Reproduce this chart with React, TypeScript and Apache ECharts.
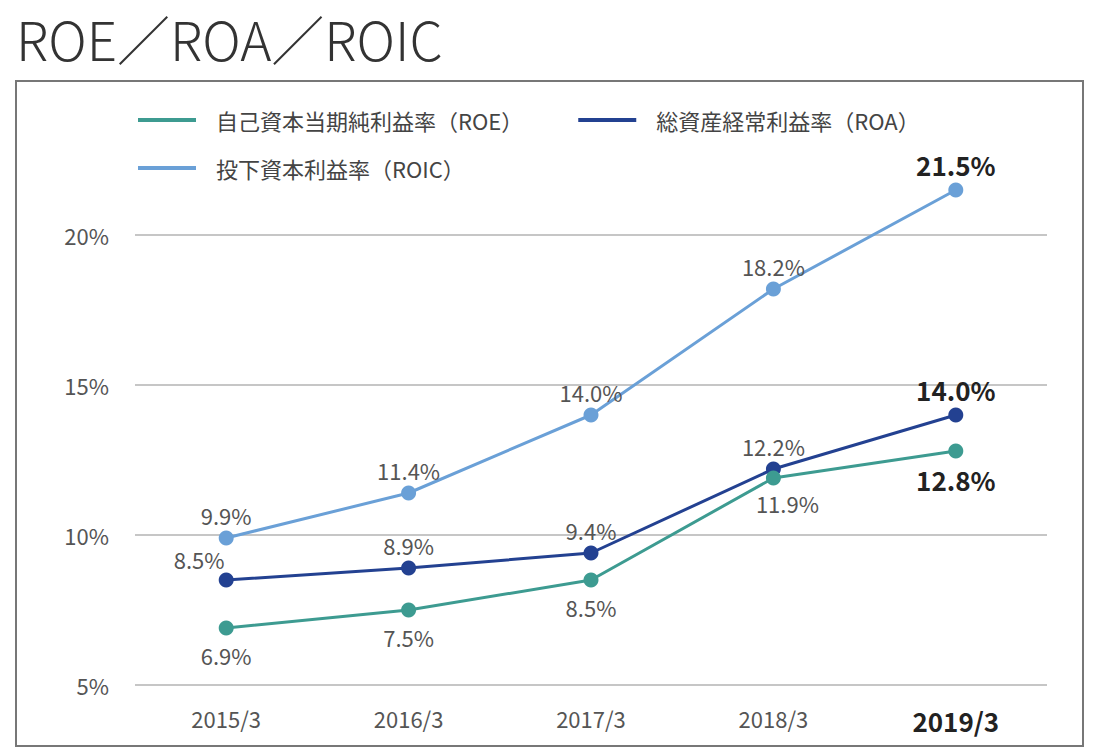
import { useEffect, useRef } from 'react';
import * as echarts from 'echarts';

// Fiscal periods on the horizontal axis
const periods = ['2015/3', '2016/3', '2017/3', '2018/3', '2019/3'];

// Ratios in percent
const roe = [6.9, 7.5, 8.5, 11.9, 12.8];
const roa = [8.5, 8.9, 9.4, 12.2, 14.0];
const roic = [9.9, 11.4, 14.0, 18.2, 21.5];

// Value-axis range and step (percent)
const yMin = 5;
const yMax = 20;
const yStep = 5;

const seriesNames = [
  '自己資本当期純利益率（ROE）',
  '総資産経常利益率（ROA）',
  '投下資本利益率（ROIC）',
];
const colors = ['#3d9b91', '#234191', '#6aa0d7'];

const FONT = '"Noto Sans CJK JP", "Noto Sans", sans-serif';
const LAST = periods.length - 1;

const boldLabel = {
  fontWeight: 'bold' as const,
  fontSize: 26,
  color: '#222',
};

function buildData(values: number[], overrides: Record<number, object> = {}) {
  return values.map((v, i) => {
    const label = i === LAST ? { ...boldLabel } : overrides[i];
    return label ? { value: v, label } : { value: v };
  });
}

export default function App() {
  const ref = useRef<HTMLDivElement>(null);

  useEffect(() => {
    if (!ref.current) return;
    const chart = echarts.init(ref.current, undefined, { renderer: 'svg' });

    const labelBase = {
      show: true,
      fontFamily: FONT,
      fontSize: 22,
      color: '#555',
      formatter: (p: any) => `${Number(p.value).toFixed(1)}%`,
    };

    const lineSeries = (
      name: string,
      color: string,
      values: number[],
      position: 'top' | 'bottom',
      distance: number,
      z: number,
      overrides: Record<number, object> = {}
    ) => ({
      name,
      type: 'line',
      data: buildData(values, overrides),
      symbol: 'circle',
      symbolSize: 15,
      clip: false,
      z,
      itemStyle: { color },
      lineStyle: { color, width: 3 },
      label: { ...labelBase, position, distance },
      emphasis: { disabled: true },
    });

    chart.setOption({
      animation: false,
      textStyle: { fontFamily: FONT },
      color: colors,
      graphic: [
        {
          type: 'text',
          left: 16,
          top: 11,
          style: {
            text: 'ROE／ROA／ROIC',
            fontFamily: FONT,
            fontSize: 53,
            fontWeight: 300,
            fill: '#333',
          },
        },
        {
          type: 'rect',
          shape: { x: 16, y: 81, width: 1067, height: 665 },
          style: { fill: 'none', stroke: '#777', lineWidth: 2 },
          silent: true,
        },
      ],
      legend: {
        left: 133,
        top: 104,
        width: 860,
        icon: 'rect',
        itemWidth: 58,
        itemHeight: 4,
        itemGap: 26,
        data: seriesNames,
        textStyle: {
          fontFamily: FONT,
          fontSize: 22,
          lineHeight: 22,
          color: '#444',
          padding: [0, 29, 0, 15],
        },
        selectedMode: false,
      },
      grid: {
        left: 135,
        right: 53,
        top: 235,
        bottom: 71,
        containLabel: false,
      },
      xAxis: {
        type: 'category',
        data: periods,
        boundaryGap: true,
        axisLine: { show: false },
        axisTick: { show: false },
        axisLabel: {
          margin: 22,
          fontFamily: FONT,
          fontSize: 22,
          color: '#555',
          formatter: (v: string, i: number) => (i === LAST ? `{b|${v}}` : v),
          rich: {
            b: { fontFamily: FONT, fontSize: 26, fontWeight: 'bold', color: '#222' },
          },
        },
      },
      yAxis: {
        type: 'value',
        min: yMin,
        max: yMax,
        interval: yStep,
        axisLine: { show: false },
        axisTick: { show: false },
        axisLabel: {
          margin: 26,
          fontFamily: FONT,
          fontSize: 22,
          color: '#555',
          formatter: (v: number) => `${v}%`,
        },
        splitLine: { lineStyle: { color: '#b3b3b3', width: 1.5 } },
      },
      series: [
        lineSeries(seriesNames[2], colors[2], roic, 'top', 5, 2),
        lineSeries(seriesNames[1], colors[1], roa, 'top', 5, 3, {
          0: { offset: [-27, 2] },
        }),
        lineSeries(seriesNames[0], colors[0], roe, 'bottom', 8, 4, {
          3: { offset: [14, -2] },
        }),
      ],
    });

    return () => chart.dispose();
  }, []);

  return (
    <div
      ref={ref}
      style={{ position: 'absolute', left: 0, top: 0, width: 1100, height: 756 }}
    />
  );
}
